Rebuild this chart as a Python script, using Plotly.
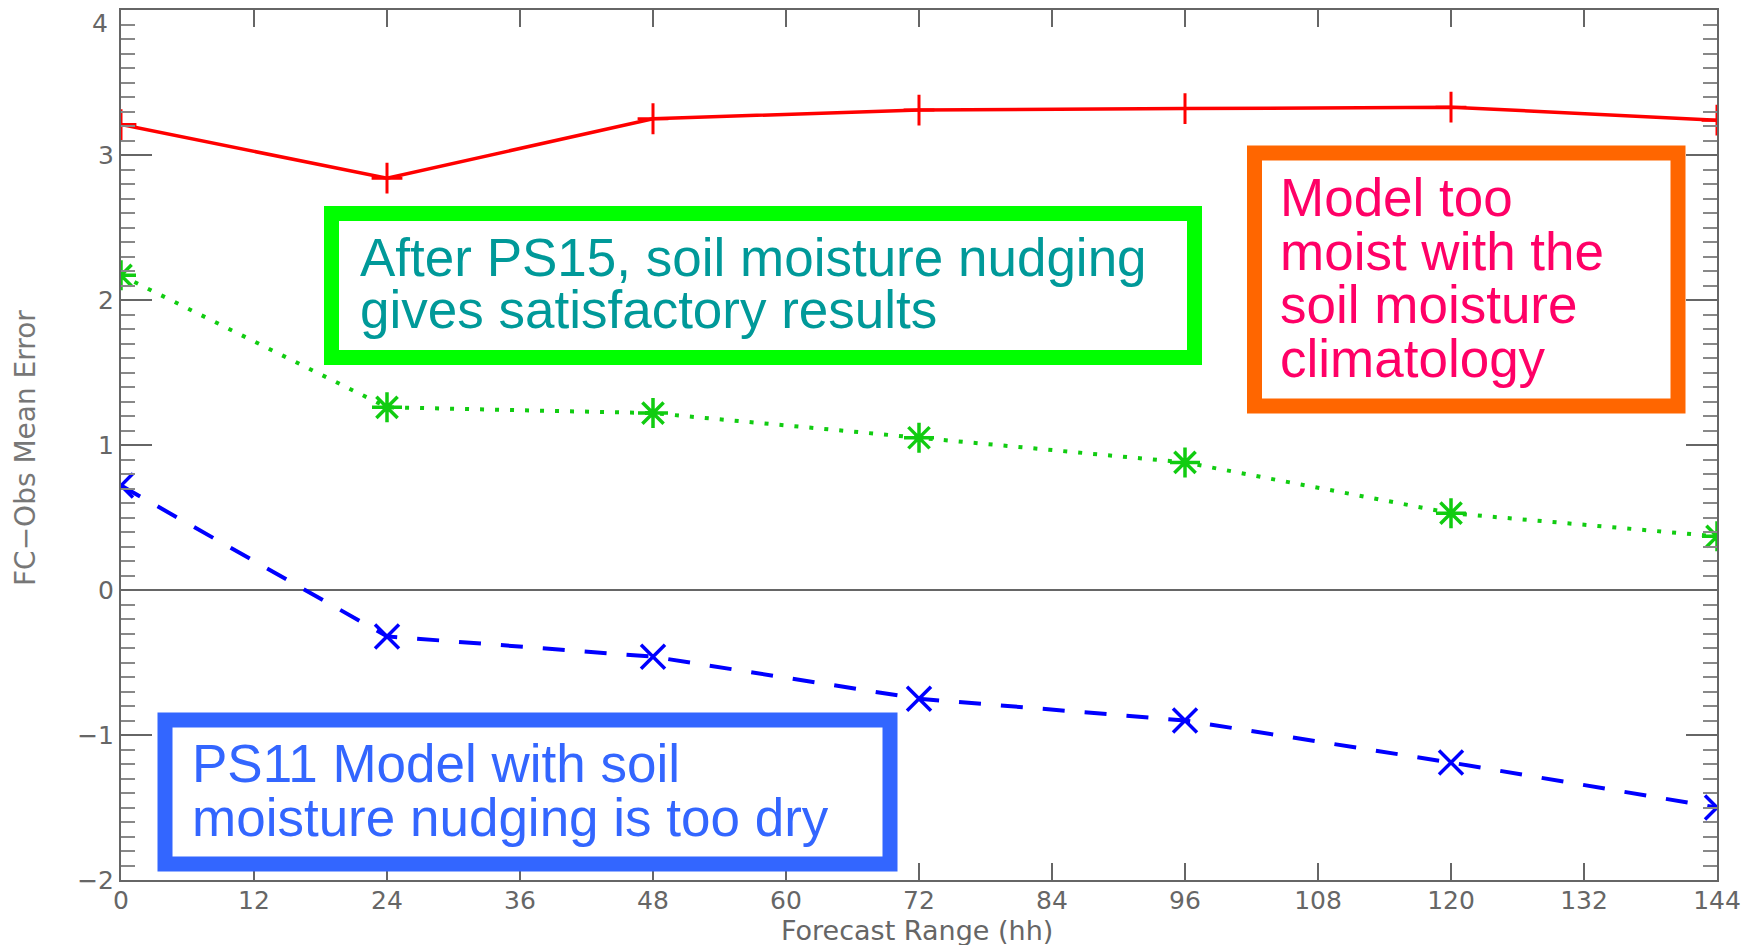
import plotly.graph_objects as go

# ---------------- data ----------------
hours = [0, 24, 48, 72, 96, 120, 144]
clim_error = [3.21, 2.84, 3.25, 3.31, 3.32, 3.33, 3.24]     # red, soil moisture climatology
ps15_error = [2.17, 1.26, 1.22, 1.05, 0.88, 0.53, 0.37]     # green, after PS15
ps11_error = [0.72, -0.32, -0.46, -0.75, -0.90, -1.19, -1.50]  # blue, PS11

x_tick_vals = list(range(0, 145, 12))
y_tick_vals = [-2, -1, 0, 1, 2, 3, 4]

green_lines = ["After PS15, soil moisture nudging", "gives satisfactory results"]
orange_lines = ["Model too", "moist with the", "soil moisture", "climatology"]
blue_lines = ["PS11 Model with soil", "moisture nudging is too dry"]

x_title = "Forecast Range (hh)"
y_title = "FC\u2212Obs Mean Error"

# ---------------- layout geometry ----------------
W, H = 1753, 945
L, R, T, B = 121, 1717, 10, 880


def px(xp):
    return (xp - L) / (R - L)


def py(yp):
    return (B - yp) / (B - T)


AXC = "#666666"
TICKFONT = dict(family="DejaVu Sans", size=25, color="#666666")

fig = go.Figure()

fig.add_trace(go.Scatter(
    x=hours, y=clim_error, mode="lines+markers",
    line=dict(color="#FF0000", width=3.5),
    marker=dict(symbol="cross-thin", size=22, line=dict(color="#FF0000", width=3)),
    showlegend=False))

fig.add_trace(go.Scatter(
    x=hours, y=ps15_error, mode="lines+markers",
    line=dict(color="#11CC11", width=4, dash="4px,11px"),
    marker=dict(symbol="asterisk-open", size=25, line=dict(color="#11CC11", width=3.5)),
    showlegend=False))

fig.add_trace(go.Scatter(
    x=hours, y=ps11_error, mode="lines+markers",
    line=dict(color="#0000FF", width=4, dash="22px,20px"),
    marker=dict(symbol="x-thin", size=24, line=dict(color="#0000FF", width=3.5)),
    showlegend=False))

# ---------------- boxes ----------------
boxes = [
    (331.5, 1194.5, 213.5, 357.5, "#00FF00"),
    (1254.5, 1678, 153, 406, "#FF6600"),
    (165, 890, 720, 864, "#3366FF"),
]
for x0, x1, y0, y1, col in boxes:
    fig.add_shape(type="rect", xref="paper", yref="paper",
                  x0=px(x0), x1=px(x1), y0=py(y1), y1=py(y0),
                  line=dict(color=col, width=15), fillcolor="white", layer="above")

FS = 53


def add_lines(lines, left, baselines, color):
    for txt, bl in zip(lines, baselines):
        fig.add_annotation(xref="paper", yref="paper",
                           x=px(left), y=py(bl - 0.3465 * FS),
                           xanchor="left", yanchor="middle", showarrow=False,
                           text=txt,
                           font=dict(family="Liberation Sans", size=FS, color=color))


add_lines(green_lines, 358, [276, 328], "#009999")
add_lines(orange_lines, 1278, [216, 270, 323, 377], "#FF0066")
add_lines(blue_lines, 190, [782, 836], "#3366FF")

# top y tick label (sits just below the top edge, as in the original)
top_val = y_tick_vals[-1]
fig.add_annotation(xref="paper", yref="paper", x=px(110), y=py(24),
                   xanchor="right", yanchor="middle", showarrow=False,
                   text=str(top_val), font=TICKFONT)

# axis titles
fig.add_annotation(xref="paper", yref="paper", x=px(917), y=py(930.5),
                   xanchor="center", yanchor="middle", showarrow=False,
                   text=x_title, font=dict(family="DejaVu Sans", size=27, color="#666666"))
fig.add_annotation(xref="paper", yref="paper", x=px(25), y=py(448),
                   xanchor="center", yanchor="middle", showarrow=False, textangle=-90,
                   text=y_title, font=dict(family="DejaVu Sans", size=28, color="#777777"))

fig.update_layout(
    width=W, height=H,
    margin=dict(l=L, r=W - R, t=T, b=H - B, autoexpand=False),
    paper_bgcolor="white", plot_bgcolor="white",
    xaxis=dict(range=[0, 144], tickmode="array", tickvals=x_tick_vals,
               ticks="inside", ticklen=17, tickwidth=2, tickcolor=AXC,
               showline=True, linecolor=AXC, linewidth=2, mirror="ticks",
               showgrid=False, zeroline=False, tickfont=TICKFONT,
               ticklabeloverflow="allow", ticklabelstandoff=-3),
    yaxis=dict(range=[-2, 4], tickmode="array", tickvals=y_tick_vals,
               ticktext=[("\u2212" + str(-v)) if v < 0 else (str(v) if v != top_val else "")
                         for v in y_tick_vals],
               ticks="inside", ticklen=31, tickwidth=2, tickcolor=AXC,
               minor=dict(dtick=0.1, tick0=0, ticks="inside", ticklen=14,
                          tickwidth=2, tickcolor="#888888", showgrid=False),
               showline=True, linecolor=AXC, linewidth=2, mirror="ticks",
               showgrid=False, zeroline=True, zerolinecolor=AXC, zerolinewidth=2,
               tickfont=TICKFONT, ticklabeloverflow="allow"),
)

fig.write_html("out.html", config={"displayModeBar": False},
               post_script="document.body.style.margin='0px';document.body.style.overflow='hidden';")
